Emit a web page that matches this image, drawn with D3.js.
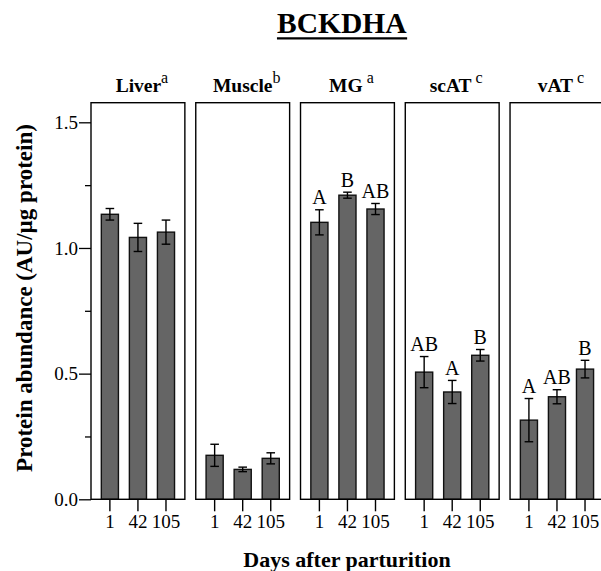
<!DOCTYPE html>
<html>
<head>
<meta charset="utf-8">
<script src="https://cdn.jsdelivr.net/npm/d3@7"></script>
<style>
  body { margin: 0; background: #fff; }
  svg { display: block; font-family: "Liberation Serif", "Times New Roman", Times, serif; }
</style>
</head>
<body>
<svg id="chart" width="601" height="571"></svg>
<script>
// Tissues, their group letters, and sampling days
const tissues = ["Liver", "Muscle", "MG", "scAT", "vAT"];
const tissueLetters = ["a", "b", "a", "c", "c"];
const tissueLetterSpaced = [false, false, true, true, true];
const days = ["1", "42", "105"];

// Mean BCKDHA abundance (AU/µg protein) per tissue and day
const liverMean  = [1.134, 1.042, 1.063];
const muscleMean = [0.175, 0.119, 0.163];
const mgMean     = [1.102, 1.210, 1.155];
const scatMean   = [0.506, 0.427, 0.573];
const vatMean    = [0.315, 0.408, 0.518];

// Standard errors
const liverSE  = [0.023, 0.056, 0.048];
const muscleSE = [0.044, 0.009, 0.022];
const mgSE     = [0.050, 0.012, 0.022];
const scatSE   = [0.062, 0.046, 0.023];
const vatSE    = [0.086, 0.028, 0.035];

// Day-wise significance letters
const liverSig  = ["", "", ""];
const muscleSig = ["", "", ""];
const mgSig     = ["A", "B", "AB"];
const scatSig   = ["AB", "A", "B"];
const vatSig    = ["A", "AB", "B"];

const yTicksMajor = [0, 0.5, 1.0, 1.5];
const yTicksMinor = [0.25, 0.75, 1.25];

const means = [liverMean, muscleMean, mgMean, scatMean, vatMean];
const ses = [liverSE, muscleSE, mgSE, scatSE, vatSE];
const sigs = [liverSig, muscleSig, mgSig, scatSig, vatSig];

const panels = tissues.map((t, i) => ({
  tissue: t, letter: tissueLetters[i], spaced: tissueLetterSpaced[i],
  bars: days.map((d, j) => ({ day: d, mean: means[i][j], se: ses[i][j], sig: sigs[i][j] }))
}));

const serif = "Liberation Serif, Times New Roman, serif";
const svg = d3.select("#chart");
const plotTop = 102.7, plotBottom = 499.3, plotLeft = 91;

const x = d3.scaleBand().domain(tissues).range([plotLeft, 603.9]).paddingInner(0.104).paddingOuter(0);
const xi = d3.scaleBand().domain(days).range([0, x.bandwidth()]).paddingInner(0.39).paddingOuter(0.368);
const y = d3.scaleLinear().domain([0, 1.578]).range([plotBottom, plotTop]);

// Title
const title = svg.append("text")
  .attr("x", 341.7).attr("y", 33)
  .attr("text-anchor", "middle")
  .attr("font-weight", "bold").attr("font-size", 29.5)
  .text("BCKDHA");
const tb = title.node().getBBox();
svg.append("line")
  .attr("x1", tb.x).attr("x2", tb.x + tb.width)
  .attr("y1", 38.3).attr("y2", 38.3)
  .attr("stroke", "#000").attr("stroke-width", 2.2);

// Y axis: major ticks with labels, minor ticks without
const yAxis = svg.append("g").attr("transform", `translate(${plotLeft},0)`)
  .call(d3.axisLeft(y).tickValues(yTicksMajor).tickFormat(d3.format(".1f")).tickSize(12).tickPadding(1));
yAxis.select(".domain").remove();
yAxis.selectAll("line").attr("stroke-width", 1.3);
yAxis.selectAll("text").attr("font-size", 19).attr("font-family", serif).attr("fill", "#000");
const yMinor = svg.append("g").attr("transform", `translate(${plotLeft},0)`)
  .call(d3.axisLeft(y).tickValues(yTicksMinor).tickFormat("").tickSize(6));
yMinor.select(".domain").remove();
yMinor.selectAll("line").attr("stroke-width", 1.3);

// Y label
svg.append("text")
  .attr("transform", `translate(31.5,298) rotate(-90)`)
  .attr("text-anchor", "middle")
  .attr("font-weight", "bold").attr("font-size", 23)
  .text("Protein abundance (AU/µg protein)");

// X label
svg.append("text")
  .attr("x", 347).attr("y", 566.5)
  .attr("text-anchor", "middle")
  .attr("font-weight", "bold").attr("font-size", 22)
  .text("Days after parturition");

const pg = svg.selectAll("g.panel").data(panels).join("g")
  .attr("class", "panel")
  .attr("transform", d => `translate(${x(d.tissue)},0)`);

// Bars
pg.selectAll("rect.bar").data(d => d.bars).join("rect")
  .attr("class", "bar")
  .attr("x", b => xi(b.day))
  .attr("width", xi.bandwidth())
  .attr("y", b => y(b.mean))
  .attr("height", b => y(0) - y(b.mean))
  .attr("fill", "#656565").attr("stroke", "#111").attr("stroke-width", 1.4);

// Error bars
const eb = pg.selectAll("g.err").data(d => d.bars).join("g").attr("class", "err")
  .attr("transform", b => `translate(${xi(b.day) + xi.bandwidth() / 2},0)`);
eb.append("line").attr("y1", b => y(b.mean - b.se)).attr("y2", b => y(b.mean + b.se))
  .attr("stroke", "#000").attr("stroke-width", 1.4);
eb.append("line").attr("x1", -4.3).attr("x2", 4.3).attr("y1", b => y(b.mean + b.se)).attr("y2", b => y(b.mean + b.se))
  .attr("stroke", "#000").attr("stroke-width", 1.4);
eb.append("line").attr("x1", -4.3).attr("x2", 4.3).attr("y1", b => y(b.mean - b.se)).attr("y2", b => y(b.mean - b.se))
  .attr("stroke", "#000").attr("stroke-width", 1.4);

// Significance letters
eb.append("text")
  .attr("y", b => y(b.mean + b.se) - 5.5)
  .attr("text-anchor", "middle").attr("font-size", 20)
  .text(b => b.sig);

// Panel frames
pg.append("rect")
  .attr("x", 0).attr("y", plotTop)
  .attr("width", x.bandwidth()).attr("height", plotBottom - plotTop)
  .attr("fill", "none").attr("stroke", "#000").attr("stroke-width", 1.4);

// X axis ticks per panel
pg.each(function () {
  const g = d3.select(this).append("g").attr("transform", `translate(0,${plotBottom})`)
    .call(d3.axisBottom(xi).tickSize(12).tickPadding(3.5));
  g.select(".domain").remove();
  g.selectAll("line").attr("stroke-width", 1.4);
  g.selectAll("text").attr("font-size", 19).attr("font-family", serif).attr("fill", "#000");
});

// Panel headers with group superscripts
const hdr = pg.append("text")
  .attr("x", x.bandwidth() / 2 + 4).attr("y", 91.7)
  .attr("text-anchor", "middle");
hdr.append("tspan").attr("font-weight", "bold").attr("font-size", 19.5).text(d => d.tissue);
hdr.append("tspan").attr("font-size", 16).attr("dx", d => d.spaced ? 4 : 0).attr("dy", -8.5).text(d => d.letter);
</script>
</body>
</html>
